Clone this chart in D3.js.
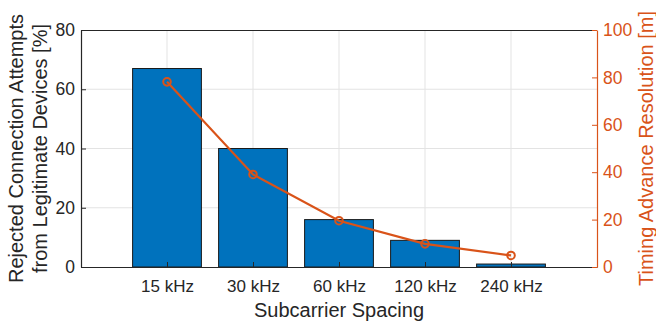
<!DOCTYPE html>
<html><head><meta charset="utf-8">
<script src="https://cdn.jsdelivr.net/npm/d3@7"></script>
<style>body{margin:0;background:#fff}svg{display:block}text{font-family:"Liberation Sans",Arial,sans-serif}</style>
</head><body><svg id="c" width="656" height="324"></svg>
<script>
const categories = ["15 kHz","30 kHz","60 kHz","120 kHz","240 kHz"];
const rejected = [67, 40, 16, 9, 1];
const taResolution = [78.125, 39.06, 19.53, 9.77, 4.88];
const leftTicks = [0,20,40,60,80];
const rightTicks = [0,20,40,60,80,100];

const svg = d3.select("#c");
const L=81, R=597, T=30, B=267;
const blue="#0072BD", orange="#D95319", dark="#262626";
const x = d3.scaleLinear().domain([0, categories.length+1]).range([L,R]);
const yL = d3.scaleLinear().domain([0,80]).range([B,T]);
const yR = d3.scaleLinear().domain([0,100]).range([B,T]);
const bw = (x(1)-x(0))*0.8;

// grid
const g = svg.append("g");
g.selectAll("line.v").data(categories).enter().append("line")
  .attr("x1",(d,i)=>x(i+1)).attr("x2",(d,i)=>x(i+1)).attr("y1",T).attr("y2",B)
  .attr("stroke","#e3e3e3").attr("stroke-width",1);
g.selectAll("line.h").data(leftTicks.slice(1,-1)).enter().append("line")
  .attr("x1",L).attr("x2",R).attr("y1",d=>yL(d)).attr("y2",d=>yL(d))
  .attr("stroke","#e3e3e3").attr("stroke-width",1);

// bars
svg.selectAll("rect.bar").data(rejected).enter().append("rect")
  .attr("x",(d,i)=>x(i+1)-bw/2).attr("width",bw)
  .attr("y",d=>yL(d)).attr("height",d=>B-yL(d))
  .attr("fill",blue).attr("stroke","#1a1a1a").attr("stroke-width",1);

// box
svg.append("line").attr("x1",L).attr("x2",R).attr("y1",T+0.5).attr("y2",T+0.5).attr("stroke",dark).attr("stroke-width",1);

// x axis
const xa = svg.append("g").attr("transform",`translate(0,${B})`)
  .call(d3.axisBottom(x).tickValues(d3.range(1,categories.length+1)).tickFormat(i=>categories[i-1]).tickSizeInner(-5).tickSizeOuter(0).tickPadding(12.5));
xa.select(".domain").attr("stroke",dark).attr("stroke-width",1.2);
xa.selectAll(".tick line").attr("stroke",dark);
xa.selectAll("text").attr("fill",dark).attr("font-size",17);

// left axis
const la = svg.append("g").attr("transform",`translate(${L},0)`)
  .call(d3.axisLeft(yL).tickValues(leftTicks).tickSizeInner(-5).tickSizeOuter(0).tickPadding(6));
la.select(".domain").attr("stroke",dark).attr("stroke-width",1.2);
la.selectAll(".tick line").attr("stroke",dark);
la.selectAll("text").attr("fill",dark).attr("font-size",17.5);

// right axis
const ra = svg.append("g").attr("transform",`translate(${R},0)`)
  .call(d3.axisRight(yR).tickValues(rightTicks).tickSizeInner(-5).tickSizeOuter(0).tickPadding(6));
ra.select(".domain").attr("stroke",orange).attr("stroke-width",1.2);
ra.selectAll(".tick line").attr("stroke",orange);
ra.selectAll("text").attr("fill",orange).attr("font-size",17.5);

// line
const line = d3.line().x((d,i)=>x(i+1)).y(d=>yR(d));
svg.append("path").datum(taResolution).attr("d",line).attr("fill","none").attr("stroke",orange).attr("stroke-width",2.2);
svg.selectAll("circle.pt").data(taResolution).enter().append("circle")
  .attr("cx",(d,i)=>x(i+1)).attr("cy",d=>yR(d)).attr("r",3.8)
  .attr("fill","none").attr("stroke",orange).attr("stroke-width",2);

// labels
svg.append("text").attr("x",(L+R)/2).attr("y",317).attr("text-anchor","middle").attr("fill",dark).attr("font-size",20).text("Subcarrier Spacing");
const yl = svg.append("text").attr("transform",`translate(22.5,${(T+B)/2}) rotate(-90)`).attr("text-anchor","middle").attr("fill",dark).attr("font-size",20);
yl.append("tspan").attr("x",0).attr("dy",0).text("Rejected Connection Attempts");
yl.append("tspan").attr("x",0).attr("dy",24.5).text("from Legitimate Devices [%]");
svg.append("text").attr("transform",`translate(653,${(T+B)/2}) rotate(-90)`).attr("text-anchor","middle").attr("fill",orange).attr("font-size",20).text("Timing Advance Resolution [m]");
</script></body></html>
